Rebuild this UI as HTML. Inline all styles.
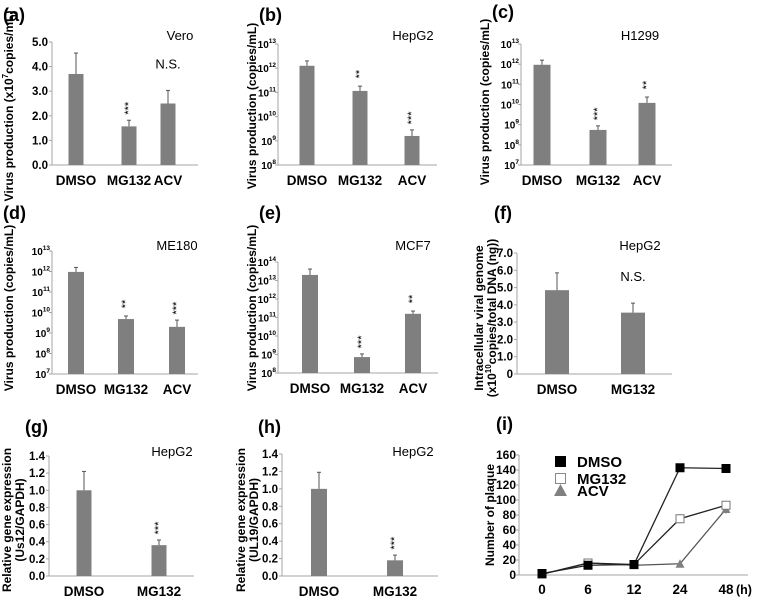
<!DOCTYPE html>
<html><head><meta charset="utf-8"><style>
html,body{margin:0;padding:0;background:#fff;}
svg{display:block;font-family:"Liberation Sans",Arial,sans-serif;}
</style></head><body>
<svg id="fig" width="759" height="598" viewBox="0 0 759 598" xmlns="http://www.w3.org/2000/svg"></svg>
<script>
// ---- data ----
const catsABCDE = ["DMSO","MG132","ACV"];
const catsFGH = ["DMSO","MG132"];
const aVals = [3.7, 1.57, 2.5];
const aErr = [4.55, 1.82, 3.03];
const aTicks = [0,1,2,3,4,5];
const bVals = [12.1, 11.06, 9.2];      // log10
const bErr = [12.3, 11.26, 9.45];
const bTicks = [8,9,10,11,12,13];
const cVals = [11.97, 8.74, 10.08];
const cErr = [12.2, 8.94, 10.37];
const cTicks = [7,8,9,10,11,12,13];
const dVals = [11.98, 9.68, 9.3];
const dErr = [12.2, 9.83, 9.63];
const dTicks = [7,8,9,10,11,12,13];
const eVals = [13.3, 8.86, 11.2];
const eErr = [13.62, 9.03, 11.35];
const eTicks = [8,9,10,11,12,13,14];
const fVals = [4.85, 3.55];
const fErr = [5.85, 4.1];
const fTicks = [0,1,2,3,4,5,6,7];
const gVals = [1.0, 0.36];
const gErr = [1.22, 0.42];
const hVals = [1.0, 0.18];
const hErr = [1.19, 0.24];
const ghTicks = [0,0.2,0.4,0.6,0.8,1.0,1.2,1.4];
const iCats = ["0","6","12","24","48"];
const iDMSO = [2, 13, 14, 143, 142];
const iMG132 = [1, 16, 14, 75, 93];
const iMG132Err = [1, 2, 2, 6, 4];
const iACV = [1, 16, 13, 15, 88];
const iACVErr = [1, 2, 2, 2, 6];
const iTicks = [0,20,40,60,80,100,120,140,160];

const NS = "http://www.w3.org/2000/svg";
const svg = document.getElementById("fig");
function el(tag, attrs, parent, text){
  const e = document.createElementNS(NS, tag);
  for (const k in attrs) e.setAttribute(k, attrs[k]);
  if (text !== undefined) e.textContent = text;
  (parent||svg).appendChild(e);
  return e;
}
const BAR = "#7f7f7f", AX = "#a6a6a6";

function barPanel(o){
  const g = el("g", {});
  
  
  const lo = o.ticks[0], hi = o.ticks[o.ticks.length-1];
  const y = v => o.y0 - (v - lo) / (hi - lo) * (o.y0 - o.y1);
  const ya = el("line", {x1:o.ax, y1:o.y1, x2:o.ax, y2:o.y0, stroke:AX, "stroke-width":1}, g);
  
  
  const xa = el("line", {x1:o.ax, y1:o.y0, x2:o.ax2, y2:o.y0, stroke:AX, "stroke-width":1}, g);
  
  
  o.ticks.forEach(t => {
    el("line", {x1:o.ax-3, y1:y(t), x2:o.ax, y2:y(t), stroke:AX}, g);
    let tx;
    if (o.log){
      tx = el("text", {x:o.ax-2, y:y(t)+4, "text-anchor":"end", "font-size":"10", "font-weight":"bold"}, g);
      tx.appendChild(document.createTextNode("10"));
      el("tspan", {"font-size":"6.5", dy:"-5"}, tx, String(t));
    } else {
      tx = el("text", {x:o.ax-4, y:y(t)+4, "text-anchor":"end", "font-size":"11.5", "font-weight":"bold"}, g, o.fmt(t));
    }
    
    
  });
  o.cats.forEach((c, i) => {
    const cx = o.cx[i];
    const r = el("rect", {x:cx-o.bw/2, y:y(o.vals[i]), width:o.bw, height:o.y0-y(o.vals[i]), fill:BAR}, g);
    
    
    const e = el("line", {x1:cx, y1:y(o.err[i]), x2:cx, y2:y(o.vals[i]), stroke:"#555", "stroke-width":1}, g);
    
    
    el("line", {x1:cx-2, y1:y(o.err[i]), x2:cx+2, y2:y(o.err[i]), stroke:"#555"}, g);
    const lb = el("text", {x:cx, y:o.y0+20, "text-anchor":"middle", "font-size":"13.5", "font-weight":"bold"}, g, c);
    
    
    const st = o.stars[i];
    if (st === "NS"){
      const t = el("text", {x:cx, y:y(o.err[i])-22, "text-anchor":"middle", "font-size":"13"}, g, "N.S.");
      
      
    } else if (st){
      const sy = y(o.err[i]) - 12;
      const t = el("text", {x:cx+3, y:sy, "text-anchor":"middle", "font-size":"11", transform:`rotate(-90 ${cx+3} ${sy})`}, g, st);
      
      
    }
  });
  const cl = el("text", {x:o.cellX, y:o.cellY, "text-anchor":"middle", "font-size":"13"}, g, o.cell);
  
  
  const pl = el("text", {x:o.lx, y:o.ly, "font-size":"18", "font-weight":"bold"}, g, o.label);
  
  
  o.title.forEach((line, k) => {
    const tx0 = o.tx[k], ty = o.ty;
    const t = el("text", {x:tx0, y:ty, "text-anchor":"middle", "font-size":"12", "font-weight":"bold", transform:`rotate(-90 ${tx0} ${ty})`}, g);
    line.forEach(part => {
      if (typeof part === "string") t.appendChild(document.createTextNode(part));
      else if (part.s) el("tspan", {"font-size":"8", dy:"-5"}, t, part.s);
      else if (part.a) el("tspan", {dy:"5"}, t, part.a);
    });
    
    
  });
}
const vp = ["Virus production (copies/mL)"];
const fmt1 = t => t.toFixed(1);

barPanel({name:"panel-a", label:"(a)", lx:3, ly:21, ax:52, ax2:198, y0:165, y1:42, ticks:aTicks, fmt:fmt1, cats:catsABCDE, cx:[76,129,168], bw:15, vals:aVals, err:aErr, stars:["","***","NS"], cell:"Vero", cellX:180, cellY:40, title:[["Virus production (x10",{s:"7"},{a:"copies/mL)"}]], tx:[13], ty:106});
barPanel({name:"panel-b", label:"(b)", lx:259, ly:21, ax:278, ax2:437, y0:165, y1:44, ticks:bTicks, log:true, cats:catsABCDE, cx:[307,360,412], bw:15, vals:bVals, err:bErr, stars:["","**","***"], cell:"HepG2", cellX:413, cellY:40, title:[vp], tx:[256], ty:106});
barPanel({name:"panel-c", label:"(c)", lx:492, ly:18, ax:521, ax2:672, y0:165, y1:44, ticks:cTicks, log:true, cats:catsABCDE, cx:[542,598,647], bw:17, vals:cVals, err:cErr, stars:["","***","**"], cell:"H1299", cellX:640, cellY:40, title:[vp], tx:[489], ty:102});
barPanel({name:"panel-d", label:"(d)", lx:3, ly:219, ax:52, ax2:198, y0:374, y1:251, ticks:dTicks, log:true, cats:catsABCDE, cx:[76,126,177], bw:16, vals:dVals, err:dErr, stars:["","**","***"], cell:"ME180", cellX:177, cellY:250, title:[vp], tx:[13], ty:308});
barPanel({name:"panel-e", label:"(e)", lx:259, ly:219, ax:278, ax2:438, y0:373, y1:262, ticks:eTicks, log:true, cats:catsABCDE, cx:[310,362,413], bw:16, vals:eVals, err:eErr, stars:["","***","**"], cell:"MCF7", cellX:413, cellY:250, title:[vp], tx:[256], ty:308});
barPanel({name:"panel-f", label:"(f)", lx:494, ly:219, ax:517, ax2:672, y0:374, y1:253, ticks:fTicks, fmt:t => t===0?"0":t.toFixed(1), cats:catsFGH, cx:[557,633], bw:24, vals:fVals, err:fErr, stars:["","NS"], cell:"HepG2", cellX:640, cellY:250, title:[["Intracellular viral genome"],["(x10",{s:"10"},{a:"copies/total DNA (ng))"}]], tx:[483,496], ty:318});
barPanel({name:"panel-g", label:"(g)", lx:25, ly:433, ax:49, ax2:194, y0:576, y1:456, ticks:ghTicks, fmt:fmt1, cats:catsFGH, cx:[84,159], bw:15, vals:gVals, err:gErr, stars:["","***"], cell:"HepG2", cellX:172, cellY:456, title:[["Relative gene expression"],["(Us12/GAPDH)"]], tx:[11,24], ty:520});
barPanel({name:"panel-h", label:"(h)", lx:258, ly:433, ax:282, ax2:438, y0:576, y1:454, ticks:ghTicks, fmt:fmt1, cats:catsFGH, cx:[319,395], bw:16, vals:hVals, err:hErr, stars:["","***"], cell:"HepG2", cellX:413, cellY:456, title:[["Relative gene expression"],["(UL19/GAPDH)"]], tx:[245,258], ty:520});

// ---- panel i line chart ----
(function(){
  const g = el("g", {});
  
  
  const ax = 519, ax2 = 748, y0 = 575, y1 = 455;
  const y = v => y0 - v / 160 * (y0 - y1);
  const x = i => 542 + i * 46;
  el("line", {x1:ax, y1:y1, x2:ax, y2:y0, stroke:AX}, g);
  el("line", {x1:ax, y1:y0, x2:ax2, y2:y0, stroke:AX}, g);
  iTicks.forEach(t => {
    el("line", {x1:ax-3, y1:y(t), x2:ax, y2:y(t), stroke:AX}, g);
    const tx = el("text", {x:ax-3, y:y(t)+4, "text-anchor":"end", "font-size":"12", "font-weight":"bold"}, g, String(t));
    
    
  });
  iCats.forEach((c, i) => {
    const tx = el("text", {x:x(i), y:594, "text-anchor":"middle", "font-size":"13.5", "font-weight":"bold"}, g, c);
    
    
  });
  const hl = el("text", {x:736, y:594, "font-size":"12.5", "font-weight":"bold"}, g, "(h)");
  
  
  function series(vals, errs, name, marker){
    const pts = vals.map((v, i) => x(i) + "," + y(v)).join(" ");
    const pl = el("polyline", {points:pts, fill:"none", stroke:name==="acv"?"#555":"#222", "stroke-width":1.3}, g);
    
    
    vals.forEach((v, i) => {
      if (errs){ el("line", {x1:x(i), y1:y(v+errs[i]), x2:x(i), y2:y(v-errs[i]), stroke:"#666"}, g); }
      let m;
      if (marker === "tri") m = el("polygon", {points:`${x(i)-4.5},${y(v)+4} ${x(i)+4.5},${y(v)+4} ${x(i)},${y(v)-4.5}`, fill:"#808080"}, g);
      else m = el("rect", {x:x(i)-4, y:y(v)-4, width:8, height:8, fill:marker==="fill"?"#000":"#fff", stroke:marker==="fill"?"#000":"#777"}, g);
      
      
    });
  }
  series(iACV, iACVErr, "acv", "tri");
  series(iMG132, iMG132Err, "mg132", "open");
  series(iDMSO, null, "dmso", "fill");
  const lg = el("g", {}, g);
  
  
  el("rect", {x:555, y:456, width:11, height:11, fill:"#000"}, lg);
  el("text", {x:577, y:467, "font-size":"15", "font-weight":"bold"}, lg, "DMSO");
  el("rect", {x:555.5, y:473.5, width:10, height:10, fill:"#fff", stroke:"#888"}, lg);
  el("text", {x:577, y:484, "font-size":"15", "font-weight":"bold"}, lg, "MG132");
  el("polygon", {points:"554,496 567,496 560.5,484", fill:"#808080"}, lg);
  el("text", {x:577, y:496, "font-size":"15", "font-weight":"bold"}, lg, "ACV");
  const pl = el("text", {x:496, y:430, "font-size":"18", "font-weight":"bold"}, g, "(i)");
  
  
  const t = el("text", {x:494, y:515, "text-anchor":"middle", "font-size":"12", "font-weight":"bold", transform:"rotate(-90 494 515)"}, g, "Number of plaque");
  
  
})();
</script>
</body></html>
